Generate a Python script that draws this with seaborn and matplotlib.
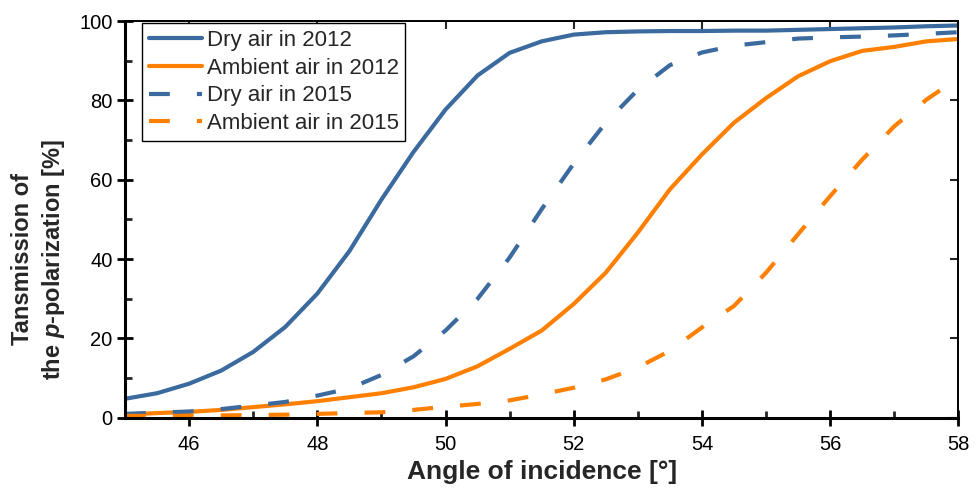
import numpy as np
import pandas as pd
import seaborn as sns
import matplotlib
matplotlib.use("Agg")
from matplotlib import pyplot as plt
from matplotlib.ticker import MultipleLocator

# angle of incidence [deg]
angle = [45, 45.5, 46, 46.5, 47, 47.5, 48, 48.5, 49, 49.5, 50, 50.5, 51, 51.5,
         52, 52.5, 53, 53.5, 54, 54.5, 55, 55.5, 56, 56.5, 57, 57.5, 58]

# transmission of p-polarization [%]
dry_2012 = [4.8, 6.2, 8.6, 11.9, 16.6, 22.9, 31.3, 42.0, 55.0, 67.0, 77.7, 86.3, 92.0, 94.9,
            96.6, 97.2, 97.4, 97.5, 97.5, 97.6, 97.6, 97.8, 98.0, 98.2, 98.4, 98.7, 98.9]
ambient_2012 = [0.8, 1.2, 1.5, 2.0, 2.7, 3.4, 4.2, 5.2, 6.2, 7.7, 9.8, 13.0, 17.4, 22.0,
                28.7, 36.6, 46.7, 57.6, 66.4, 74.4, 80.6, 86.1, 89.9, 92.5, 93.5, 94.9, 95.5]
dry_2015 = [1.0, 1.3, 1.6, 2.2, 3.1, 4.0, 5.6, 7.4, 10.8, 15.5, 22.0, 30.0, 40.4, 52.6,
            64.1, 74.4, 82.7, 88.9, 92.1, 93.8, 94.7, 95.6, 95.9, 96.1, 96.4, 96.8, 97.2]
ambient_2015 = [0.5, 0.5, 0.5, 0.6, 0.7, 0.8, 1.0, 1.2, 1.4, 2.0, 2.8, 3.5, 4.4, 5.9,
                7.6, 9.7, 12.7, 16.9, 22.8, 28.2, 36.6, 46.3, 55.9, 65.1, 73.5, 80.2, 85.7]

series = ["Dry air in 2012", "Ambient air in 2012", "Dry air in 2015", "Ambient air in 2015"]
values = [dry_2012, ambient_2012, dry_2015, ambient_2015]

blue = "#3a6a9e"
orange = "#ff8000"
palette = {series[0]: blue, series[1]: orange, series[2]: blue, series[3]: orange}
dashes = {series[0]: "", series[1]: "", series[2]: (5, 6.5), series[3]: (5, 6.5)}

df = pd.concat([pd.DataFrame({"angle": angle, "T": v, "series": s})
                for s, v in zip(series, values)], ignore_index=True)

sns.set_style("ticks")
plt.rcParams["font.family"] = ["Liberation Sans", "DejaVu Sans"]
plt.rcParams["mathtext.fontset"] = "custom"
plt.rcParams["mathtext.rm"] = "Liberation Sans"
plt.rcParams["mathtext.it"] = "Liberation Sans:italic"
plt.rcParams["mathtext.bf"] = "Liberation Sans:bold"
plt.rcParams["mathtext.bfit"] = "Liberation Sans:italic:bold"

fig = plt.figure(figsize=(9.76, 4.91), dpi=100)
ax = fig.add_axes([0.128, 0.149, 0.854, 0.808])

sns.lineplot(data=df, x="angle", y="T", hue="series", style="series",
             palette=palette, dashes=dashes, linewidth=3, ax=ax, hue_order=series,
             style_order=series)

ax.set_xlim(45, 58)
ax.set_ylim(0, 100)
ax.xaxis.set_major_locator(MultipleLocator(2))
ax.xaxis.set_minor_locator(MultipleLocator(1))
ax.yaxis.set_major_locator(MultipleLocator(20))
ax.yaxis.set_minor_locator(MultipleLocator(10))
ax.tick_params(which="major", direction="inout", length=11, width=2, labelsize=14.5, colors="black")
ax.tick_params(which="minor", direction="in", length=5, width=2)
ax.tick_params(axis="x", which="major", pad=7)
ax.set_xticks([46, 48, 50, 52, 54, 56, 58])

for side in ["left", "bottom"]:
    ax.spines[side].set_linewidth(2.2)
    ax.spines[side].set_color("black")
for side in ["top", "right"]:
    ax.spines[side].set_visible(True)
    ax.spines[side].set_linewidth(1.3)
    ax.spines[side].set_color("black")

top = ax.secondary_xaxis("top")
top.set_xticks([46, 48, 50, 52, 54, 56, 58])
top.tick_params(direction="in", length=6, width=1.5, labeltop=False)
top.spines["top"].set_linewidth(1.3)
right = ax.secondary_yaxis("right")
right.set_yticks([0, 20, 40, 60, 80, 100])
right.tick_params(direction="in", length=6, width=1.5, labelright=False)
right.spines["right"].set_linewidth(1.3)

ax.set_xlabel("Angle of incidence [°]", fontsize=19, fontweight="bold", labelpad=4)
ax.set_ylabel("Tansmission of\nthe $\\bfit{p}$-polarization [%]", fontsize=17,
              fontweight="bold", linespacing=1.3)
ax.yaxis.set_label_coords(-0.07, 0.40)

handles, labels = ax.get_legend_handles_labels()
leg = ax.legend(handles, labels, loc="upper left", bbox_to_anchor=(0.018, 1.0),
                fontsize=16, frameon=True, fancybox=False, framealpha=1,
                edgecolor="black", handlelength=2.4, handletextpad=0.2,
                borderpad=0.3, labelspacing=0.3, borderaxespad=0.1)
leg.get_frame().set_linewidth(1.0)

plt.savefig("out.png", dpi=100)
